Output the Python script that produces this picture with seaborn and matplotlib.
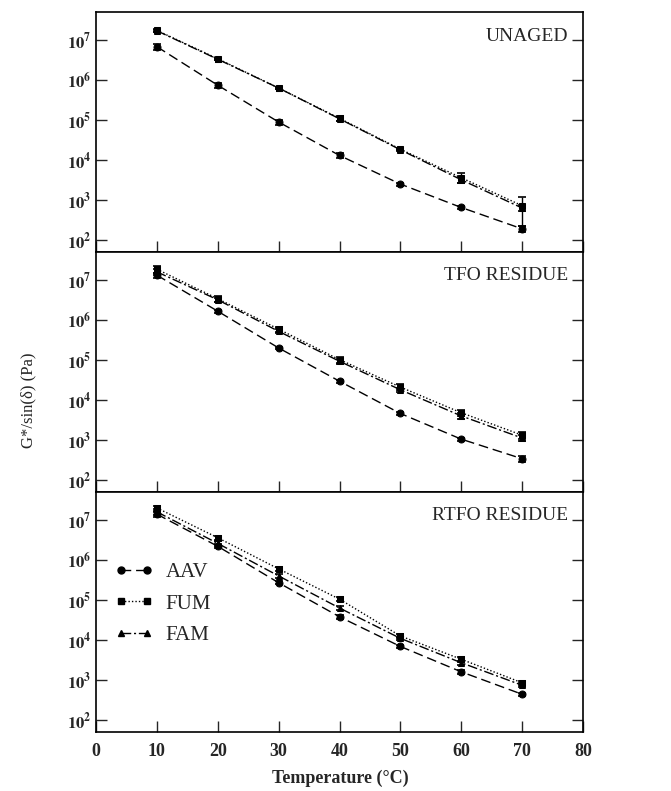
import numpy as np
import pandas as pd
import seaborn as sns
import matplotlib
matplotlib.use("Agg")
import matplotlib.pyplot as plt
from matplotlib.lines import Line2D

temps = [10, 20, 30, 40, 50, 60, 70]
binders = ["AAV", "FUM", "FAM"]
panels = ["UNAGED", "TFO RESIDUE", "RTFO RESIDUE"]

# G*/sin(delta) in Pa
unaged_aav = [6.8e6, 7.4e5, 8.9e4, 1.3e4, 2.5e3, 650, 190]
unaged_fum = [1.74e7, 3.4e6, 6.3e5, 1.1e5, 1.86e4, 3.6e3, 720]
unaged_fam = [1.7e7, 3.3e6, 6.3e5, 1.07e5, 1.8e4, 3.2e3, 630]

tfo_aav = [1.32e7, 1.66e6, 2.0e5, 2.95e4, 4.6e3, 1.05e3, 340]
tfo_fum = [1.86e7, 3.4e6, 5.9e5, 1.02e5, 2.1e4, 4.8e3, 1.32e3]
tfo_fam = [1.6e7, 3.2e6, 5.2e5, 9.3e4, 1.8e4, 4.0e3, 1.12e3]

rtfo_aav = [1.4e7, 2.2e6, 2.7e5, 3.8e4, 6.9e3, 1.6e3, 440]
rtfo_fum = [2.0e7, 3.6e6, 6.0e5, 1.05e5, 1.26e4, 3.3e3, 850]
rtfo_fam = [1.6e7, 2.6e6, 4.0e5, 6.3e4, 1.1e4, 2.7e3, 740]

# standard deviations (Pa)
unaged_aav_err = [1.2e6, 1.2e5, 1.2e4, 2.0e3, 200, 60, 30]
unaged_fum_err = [1.5e6, 2.5e5, 5e4, 1.5e4, 1.2e3, 1000, 500]
unaged_fam_err = [1.2e6, 2.0e5, 4e4, 1.2e4, 1.0e3, 500, 100]

tfo_aav_err = [2.0e6, 1.5e5, 1.5e4, 2.5e3, 400, 80, 60]
tfo_fum_err = [4.0e6, 5.0e5, 8e4, 1.8e4, 3.5e3, 800, 250]
tfo_fam_err = [3.0e6, 4.0e5, 6e4, 1.2e4, 2.5e3, 600, 200]

rtfo_aav_err = [2.0e6, 2.5e5, 2.5e4, 4.0e3, 600, 150, 40]
rtfo_fum_err = [3.0e6, 4.0e5, 6e4, 1.2e4, 1.5e3, 400, 100]
rtfo_fam_err = [2.5e6, 4.0e5, 5e4, 8e3, 1.2e3, 300, 90]

values = {
    "UNAGED": [unaged_aav, unaged_fum, unaged_fam],
    "TFO RESIDUE": [tfo_aav, tfo_fum, tfo_fam],
    "RTFO RESIDUE": [rtfo_aav, rtfo_fum, rtfo_fam],
}
errors = {
    "UNAGED": [unaged_aav_err, unaged_fum_err, unaged_fam_err],
    "TFO RESIDUE": [tfo_aav_err, tfo_fum_err, tfo_fam_err],
    "RTFO RESIDUE": [rtfo_aav_err, rtfo_fum_err, rtfo_fam_err],
}

rows = []
for p in panels:
    for b, vals, errs in zip(binders, values[p], errors[p]):
        for t, v, e in zip(temps, vals, errs):
            rows.append({"panel": p, "binder": b, "temp": t, "g": v, "err": e})
df = pd.DataFrame(rows)

sns.set_theme(style="ticks")
plt.rcParams["font.family"] = ["Liberation Serif", "DejaVu Serif"]
plt.rcParams["mathtext.fontset"] = "stix"

markers = {"AAV": "o", "FUM": "s", "FAM": "^"}
dashes = {"AAV": (7, 3.5), "FUM": (1, 1.5), "FAM": (7, 2, 1.5, 2)}

fig = plt.figure(figsize=(6.71, 7.91), dpi=100)
left, right = 96 / 671, 583 / 671
bottom, top = 1 - 732 / 791, 1 - 12 / 791
h = (top - bottom) / 3
axes = [fig.add_axes([left, top - (i + 1) * h, right - left, h]) for i in range(3)]

for ax, p in zip(axes, panels):
    sub = df[df["panel"] == p]
    sns.lineplot(data=sub, x="temp", y="g", style="binder", style_order=binders,
                 markers=markers, dashes=dashes, color="black", linewidth=1.0,
                 markersize=5, markeredgecolor="black", legend=False, ax=ax,
                 errorbar=None)
    for b in binders:
        s = sub[sub["binder"] == b]
        ax.errorbar(s["temp"], s["g"], yerr=s["err"], fmt="none", ecolor="black",
                    elinewidth=1.0, capsize=3, capthick=1.2)
    ax.set_yscale("log")
    ax.set_xlim(0, 80)
    ax.set_ylim(10 ** 1.7, 10 ** 7.7)
    ax.set_yticks([1e2, 1e3, 1e4, 1e5, 1e6, 1e7])
    ax.set_yticklabels([r"$\mathbf{10^{%d}}$" % k for k in range(2, 8)], fontsize=12)
    ax.yaxis.set_minor_locator(matplotlib.ticker.NullLocator())
    ax.set_xticks(range(0, 81, 10))
    ax.tick_params(axis="y", direction="in", left=True, right=True, length=8, width=1)
    ax.tick_params(axis="x", direction="in", bottom=True, top=False, length=8, width=1)
    for sp in ax.spines.values():
        sp.set_linewidth(1.2)
        sp.set_color("black")
    ax.set_xlabel("")
    ax.set_ylabel("")
    ax.text(0.97, 0.90, p, transform=ax.transAxes, ha="right", va="center",
            fontsize=14)

for ax in axes[:2]:
    ax.set_xticklabels([])
axes[2].set_xticklabels([str(t) for t in range(0, 81, 10)], fontsize=13,
                        fontweight="bold")
axes[2].tick_params(axis="x", pad=8)

handles = [Line2D([], [], color="black", linewidth=1.0, marker=markers[b],
                  markersize=5, dashes=dashes[b]) for b in binders]
axes[2].legend(handles, binders, loc="upper left", bbox_to_anchor=(0.0, 0.785),
               frameon=False, fontsize=15, numpoints=2, handlelength=1.85,
               labelspacing=0.58, handletextpad=0.6)

fig.text(0.042, 0.494, "G*/sin(δ) (Pa)", rotation=90, ha="center", va="center",
         fontsize=12)
fig.text(340 / 671, 1 - 778 / 791, "Temperature (°C)", ha="center", va="center",
         fontsize=13, fontweight="bold")

fig.savefig("out.png", dpi=100)
